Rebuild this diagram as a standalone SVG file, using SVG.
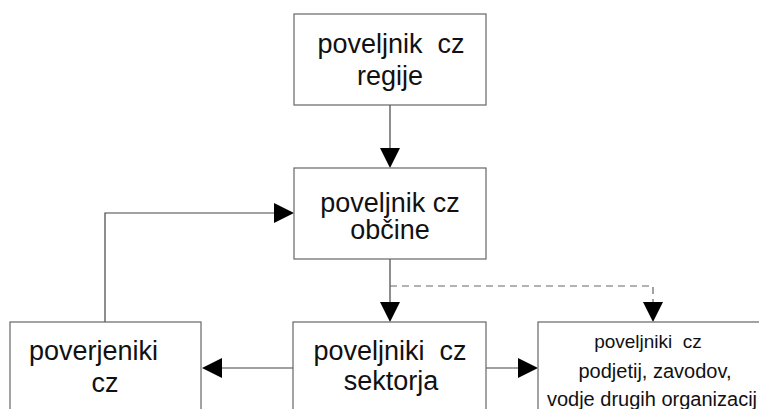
<svg xmlns="http://www.w3.org/2000/svg" width="759" height="409" viewBox="0 0 759 409">
  <defs>
    <style>
      .box { fill: #ffffff; stroke: #666666; stroke-width: 1.2; }
      .con { fill: none; stroke: #444444; stroke-width: 1.2; }
      .dash { fill: none; stroke: #666666; stroke-width: 1.2; stroke-dasharray: 7 5; }
      .t { font-family: "Liberation Sans", Arial, sans-serif; font-size: 27px; fill: #111111; text-anchor: middle; white-space: pre; }
      .s { font-size: 20px; }
      .head { fill: #000000; }
    </style>
  </defs>
  <rect width="759" height="409" fill="#ffffff"/>

  <g id="connectors">
    <line class="con" x1="390" y1="105" x2="390" y2="150"/>
    <polygon class="head" points="380,148 400,148 390,168"/>
    <polyline class="con" points="105,322 105,213 276,213"/>
    <polygon class="head" points="274,203 274,223 294,213"/>
    <line class="con" x1="390" y1="259" x2="390" y2="304"/>
    <polygon class="head" points="380,302 400,302 390,322"/>
    <polyline class="dash" points="390,286 653,286 653,304"/>
    <polygon class="head" points="643,302 663,302 653,322"/>
    <line class="con" x1="293" y1="368" x2="220" y2="368"/>
    <polygon class="head" points="222,358 222,378 202,368"/>
    <line class="con" x1="486" y1="368" x2="520" y2="368"/>
    <polygon class="head" points="518,358 518,378 538,368"/>
  </g>

  <g id="node-regije">
    <rect class="box" x="294" y="14" width="192" height="91"/>
    <text class="t" x="391" y="53">poveljnik  cz</text>
    <text class="t" x="390" y="85">regije</text>
  </g>

  <g id="node-obcine">
    <rect class="box" x="294" y="168" width="192" height="91"/>
    <text class="t" x="390" y="212">poveljnik cz</text>
    <text class="t" x="390" y="239">občine</text>
  </g>

  <g id="node-poverjeniki">
    <rect class="box" x="10" y="322" width="191" height="100"/>
    <text class="t" x="29" y="360" style="text-anchor:start">poverjeniki</text>
    <text class="t" x="105" y="392">cz</text>
  </g>

  <g id="node-sektorja">
    <rect class="box" x="293" y="322" width="193" height="100"/>
    <text class="t" x="390" y="360">poveljniki  cz</text>
    <text class="t" x="391" y="390">sektorja</text>
  </g>

  <g id="node-podjetja">
    <rect class="box" x="538" y="322" width="230" height="100"/>
    <text class="t s" x="648" y="348" style="font-size:19px">poveljniki  cz</text>
    <text class="t s" x="655" y="378">podjetij, zavodov,</text>
    <text class="t s" x="652" y="406">vodje drugih organizacij</text>
  </g>
</svg>
